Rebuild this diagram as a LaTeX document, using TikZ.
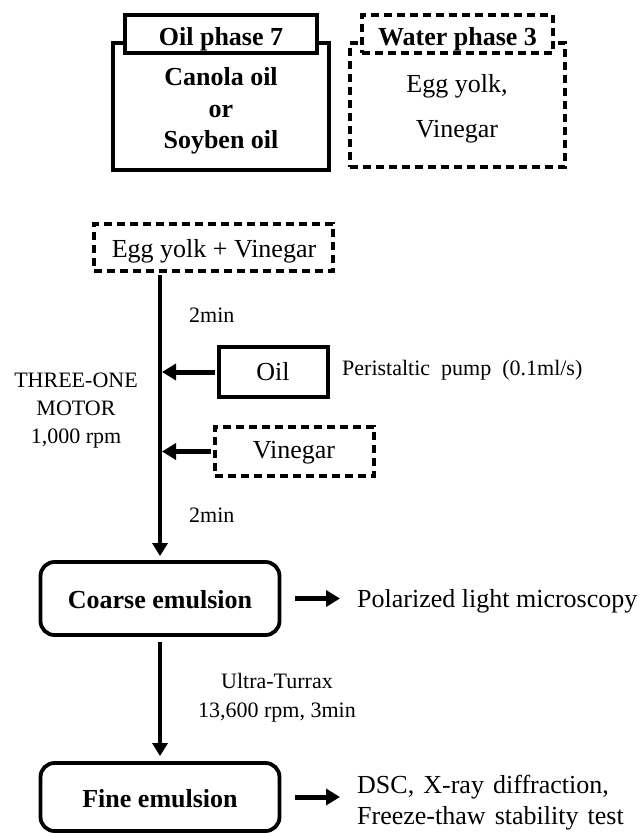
\documentclass[tikz,border=0pt]{standalone}
\usepackage{fontspec}
\setmainfont{Liberation Serif}
\usetikzlibrary{arrows.meta}
\begin{document}
\begin{tikzpicture}[x=1pt,y=-1pt,
  solidbox/.style={draw, line width=3.8pt, fill=white, inner sep=0pt},
  dashbox/.style={solidbox, dash pattern=on 8pt off 5pt},
  roundbox/.style={solidbox, rounded corners=14pt},
  big/.style={font=\fontsize{26}{30}\selectfont, inner sep=0pt},
  bigbold/.style={font=\fontsize{26}{30}\selectfont\bfseries, inner sep=0pt},
  small/.style={font=\fontsize{22}{26}\selectfont, inner sep=0pt},
  flow/.style={line width=5pt, -{Triangle[length=14pt,width=16pt]}},
  spine/.style={line width=4pt, -{Triangle[length=13pt,width=15pt]}}]
\useasboundingbox (0,0) rectangle (643,833);

% oil phase
\node[solidbox, minimum width=216pt, minimum height=127pt] (oilbox) at (221,106.5) {};
\node[solidbox, minimum width=192pt, minimum height=38pt] (oiltitle) at (221,34) {};
\node[bigbold, anchor=base] (oiltitletext) at (221,45) {Oil phase 7};
\node[bigbold, anchor=base] (canola) at (221,85) {Canola oil};
\node[bigbold, anchor=base] (ortext) at (221,117) {or};
\node[bigbold, anchor=base] (soy) at (221,148) {Soyben oil};

% water phase
\node[dashbox, minimum width=215pt, minimum height=124pt] (waterbox) at (457.5,105) {};
\node[dashbox, minimum width=191pt, minimum height=38pt] (watertitle) at (457.5,34) {};
\node[bigbold, anchor=base] (watertitletext) at (457.5,45) {Water phase 3};
\node[big, anchor=base] (eggyolk) at (457,92) {Egg yolk,};
\node[big, anchor=base] (vinegarw) at (457,137) {Vinegar};

% mixing sequence
\node[dashbox, minimum width=239pt, minimum height=47pt] (eyv) at (213.5,247.5) {};
\node[big, anchor=base] (eyvtext) at (214,257) {Egg yolk + Vinegar};

\node[solidbox, minimum width=109pt, minimum height=50pt] (oilb) at (273.5,372) {};
\node[big, anchor=base] (oiltext) at (273,380) {Oil};

\node[dashbox, minimum width=159pt, minimum height=49pt] (vinb) at (294.5,451.5) {};
\node[big, anchor=base] (vintext) at (294,458) {Vinegar};

\node[roundbox, minimum width=239pt, minimum height=73pt] (coarse) at (160,598.5) {};
\node[bigbold, anchor=base] (coarsetext) at (160,608) {Coarse emulsion};

\node[roundbox, minimum width=239pt, minimum height=68pt] (fine) at (160,797) {};
\node[bigbold, anchor=base] (finetext) at (160,807) {Fine emulsion};

% labels
\node[small, anchor=base west] (t1) at (189,322) {2min};
\node[small, anchor=base west] (t2) at (189,522) {2min};
\node[small, anchor=base] (motor1) at (76,387) {THREE-ONE};
\node[small, anchor=base] (motor2) at (76,415) {MOTOR};
\node[small, anchor=base] (motor3) at (76,443) {1,000 rpm};
\node[small, anchor=base west] (pump) at (342,375) {\spaceskip=0.5em Peristaltic pump (0.1ml/s)};
\node[small, anchor=base] (ut1) at (277,688) {Ultra-Turrax};
\node[small, anchor=base] (ut2) at (277,717) {13,600 rpm, 3min};
\node[big, anchor=base west] (plm) at (357,607) {Polarized light microscopy};
\node[big, anchor=base west] (dsc) at (357,793) {\spaceskip=0.35em DSC, X-ray diffraction,};
\node[big, anchor=base west] (ft) at (357,824) {\spaceskip=0.35em Freeze-thaw stability test};

% connectors
\draw[spine, shorten <=2pt, shorten >=4pt] (coarse.north |- eyv.south) -- (coarse.north);
\draw[flow, shorten <=2pt, shorten >=2pt] (oilb.west) -- (oilb.west -| coarse.north);
\draw[flow, shorten <=2pt, shorten >=2pt] (vinb.west) -- (vinb.west -| coarse.north);
\draw[spine, shorten <=5pt, shorten >=5pt] (coarse.south) -- (fine.north);
\draw[flow, shorten <=14pt, shorten >=17pt] (coarse.east) -- (coarse.east -| plm.west);
\draw[flow, shorten <=14pt, shorten >=17pt] (fine.east) -- (fine.east -| dsc.west);
\end{tikzpicture}
\end{document}
